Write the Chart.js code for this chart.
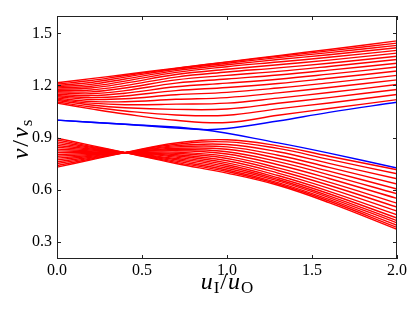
<!doctype html>
<html lang="en">
<head>
<meta charset="utf-8">
<title>v/vs against uI/uO</title>
<script src="https://cdn.jsdelivr.net/npm/chart.js@4.4.1/dist/chart.umd.min.js"></script>
<style>
  html, body { margin: 0; padding: 0; background: #fff; }
</style>
</head>
<body>
<canvas id="myChart" width="415" height="312"></canvas>
<script>
var xs = [0, 0.2, 0.4, 0.7, 1.0, 1.3, 1.6, 2.0];

// upper (fast) branch, top curve first
var upperCurves = [
  [1.215, 1.239, 1.263, 1.300, 1.336, 1.372, 1.407, 1.457],
  [1.208, 1.228, 1.257, 1.298, 1.334, 1.368, 1.399, 1.444],
  [1.200, 1.217, 1.248, 1.293, 1.328, 1.360, 1.389, 1.431],
  [1.193, 1.206, 1.237, 1.285, 1.319, 1.349, 1.377, 1.417],
  [1.186, 1.195, 1.225, 1.275, 1.308, 1.335, 1.362, 1.402],
  [1.178, 1.185, 1.213, 1.263, 1.293, 1.319, 1.346, 1.386],
  [1.171, 1.174, 1.199, 1.248, 1.277, 1.301, 1.328, 1.368],
  [1.164, 1.163, 1.185, 1.232, 1.258, 1.281, 1.309, 1.349],
  [1.157, 1.152, 1.170, 1.213, 1.237, 1.260, 1.288, 1.328],
  [1.149, 1.141, 1.155, 1.192, 1.213, 1.236, 1.265, 1.306],
  [1.142, 1.130, 1.139, 1.170, 1.188, 1.211, 1.241, 1.283],
  [1.135, 1.119, 1.123, 1.146, 1.160, 1.185, 1.215, 1.258],
  [1.127, 1.108, 1.106, 1.120, 1.130, 1.157, 1.188, 1.232],
  [1.120, 1.098, 1.089, 1.092, 1.098, 1.127, 1.159, 1.205],
  [1.113, 1.087, 1.071, 1.062, 1.064, 1.097, 1.130, 1.177],
  [1.105, 1.076, 1.053, 1.030, 1.028, 1.065, 1.099, 1.148],
  [1.098, 1.065, 1.035, 0.999, 0.986, 1.028, 1.067, 1.118]
];

// lower (slow) branch, the one ending highest first
var lowerCurves = [
  [0.729, 0.771, 0.813, 0.868, 0.887, 0.852, 0.792, 0.714],
  [0.739, 0.776, 0.813, 0.861, 0.875, 0.837, 0.774, 0.691],
  [0.750, 0.781, 0.813, 0.853, 0.860, 0.818, 0.751, 0.662],
  [0.760, 0.786, 0.813, 0.846, 0.846, 0.798, 0.728, 0.632],
  [0.771, 0.792, 0.813, 0.838, 0.832, 0.779, 0.706, 0.603],
  [0.781, 0.797, 0.813, 0.831, 0.818, 0.761, 0.685, 0.576],
  [0.792, 0.802, 0.813, 0.824, 0.805, 0.743, 0.664, 0.549],
  [0.802, 0.808, 0.813, 0.816, 0.791, 0.725, 0.643, 0.522],
  [0.813, 0.813, 0.813, 0.809, 0.779, 0.710, 0.625, 0.499],
  [0.823, 0.818, 0.813, 0.801, 0.766, 0.695, 0.607, 0.476],
  [0.833, 0.823, 0.813, 0.794, 0.754, 0.681, 0.590, 0.455],
  [0.844, 0.828, 0.813, 0.787, 0.743, 0.668, 0.576, 0.436],
  [0.854, 0.834, 0.813, 0.779, 0.733, 0.658, 0.564, 0.421],
  [0.865, 0.839, 0.813, 0.772, 0.723, 0.650, 0.554, 0.408],
  [0.875, 0.844, 0.813, 0.764, 0.713, 0.640, 0.543, 0.394],
  [0.886, 0.849, 0.813, 0.757, 0.704, 0.632, 0.534, 0.382],
  [0.896, 0.855, 0.813, 0.750, 0.695, 0.625, 0.525, 0.371]
];

// the two blue branches
var blueUpperX = [0, 0.4, 0.85, 1.0, 1.3, 1.6, 2.0];
var blueUpperY = [1.000, 0.976, 0.946, 0.952, 0.995, 1.045, 1.103];
var blueLowerX = [0, 0.4, 0.85, 1.3, 1.6, 2.0];
var blueLowerY = [1.000, 0.976, 0.946, 0.869, 0.810, 0.724];

var xTicks = [0, 0.5, 1.0, 1.5, 2.0];
var yTicks = [0.3, 0.6, 0.9, 1.2, 1.5];

var serif = "'Liberation Serif', 'Times New Roman', serif";

function pts(xArr, yArr) {
  return yArr.map(function (v, k) { return { x: xArr[k], y: v }; });
}

var datasets = [];
upperCurves.concat(lowerCurves).forEach(function (row) {
  datasets.push({ data: pts(xs, row), borderColor: '#ff0000' });
});
datasets.push({ data: pts(blueUpperX, blueUpperY), borderColor: '#0000ff' });
datasets.push({ data: pts(blueLowerX, blueLowerY), borderColor: '#0000ff' });

// frame, inward ticks and the math-style axis titles
var framePlugin = {
  id: 'frame',
  afterDraw: function (chart) {
    var c = chart.ctx, a = chart.chartArea;
    var sx = chart.scales.x, sy = chart.scales.y;
    c.save();
    c.strokeStyle = '#222';
    c.lineWidth = 1;
    c.strokeRect(a.left + 0.5, a.top + 0.5, a.right - a.left - 1, a.bottom - a.top - 1);
    c.beginPath();
    sx.ticks.forEach(function (t) {
      var px = Math.round(sx.getPixelForValue(t.value)) + 0.5;
      c.moveTo(px, a.bottom); c.lineTo(px, a.bottom - 4);
      c.moveTo(px, a.top); c.lineTo(px, a.top + 4);
    });
    sy.ticks.forEach(function (t) {
      var py = Math.round(sy.getPixelForValue(t.value)) + 0.5;
      c.moveTo(a.left, py); c.lineTo(a.left + 4, py);
      c.moveTo(a.right, py); c.lineTo(a.right - 4, py);
    });
    c.stroke();

    c.fillStyle = '#000';
    c.textBaseline = 'alphabetic';
    function drawParts(parts, cx, baseY) {
      var w = 0;
      parts.forEach(function (p) {
        c.font = p.f; p.w = c.measureText(p.t).width + (p.gap || 0); w += p.w;
      });
      var x = cx - w / 2;
      parts.forEach(function (p) {
        c.font = p.f;
        c.fillText(p.t, x, baseY + (p.dy || 0));
        x += p.w;
      });
    }
    var big = '24px ' + serif, bigI = 'italic 24px ' + serif, small = '17px ' + serif;
    // x title: u_I / u_O
    drawParts([
      { t: 'u', f: bigI, gap: 1 }, { t: 'I', f: small, dy: 4, gap: 1 }, { t: '/', f: big, gap: 1 },
      { t: 'u', f: bigI, gap: 1 }, { t: 'O', f: small, dy: 4 }
    ], (a.left + a.right) / 2, 289);
    // y title: v / v_s
    c.save();
    c.translate(28, (a.top + a.bottom) / 2 + 2);
    c.rotate(-Math.PI / 2);
    drawParts([
      { t: 'v', f: bigI, gap: 2 }, { t: '/', f: big, gap: 2 }, { t: 'v', f: bigI, gap: 1 },
      { t: 's', f: small, dy: 4 }
    ], 0, 0);
    c.restore();
    c.restore();
  }
};

var ctx = document.getElementById('myChart').getContext('2d');
var chart = new Chart(ctx, {
  type: 'line',
  data: { datasets: datasets },
  options: {
    responsive: false,
    animation: false,
    layout: { padding: { left: 0, top: 16, right: 18, bottom: 0 } },
    elements: {
      point: { radius: 0 },
      line: { borderWidth: 1.4, tension: 0.4, fill: false }
    },
    plugins: { legend: { display: false }, tooltip: { enabled: false } },
    scales: {
      x: {
        type: 'linear', min: 0, max: 2,
        grid: { display: false, drawTicks: false }, border: { display: false },
        afterBuildTicks: function (s) { s.ticks = xTicks.map(function (v) { return { value: v }; }); },
        afterFit: function (s) { s.height = 53; },
        ticks: {
          color: '#000', padding: 2, maxRotation: 0,
          font: { family: serif, size: 16 },
          callback: function (v) { return Number(v).toFixed(1); }
        }
      },
      y: {
        type: 'linear', min: 0.2, max: 1.6,
        grid: { display: false, drawTicks: false }, border: { display: false },
        afterBuildTicks: function (s) { s.ticks = yTicks.map(function (v) { return { value: v }; }); },
        afterFit: function (s) { s.width = 57; },
        ticks: {
          color: '#000', padding: 5,
          font: { family: serif, size: 16 },
          callback: function (v) { return Number(v).toFixed(1); }
        }
      }
    }
  },
  plugins: [framePlugin]
});
</script>
</body>
</html>
